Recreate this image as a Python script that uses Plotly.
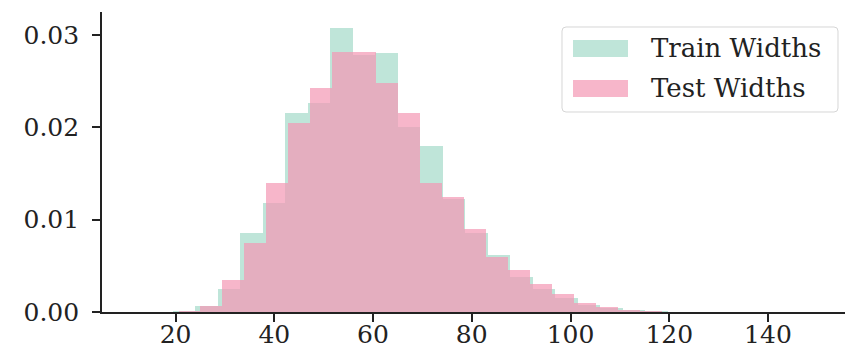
import plotly.graph_objects as go

# ---- data (densities) ----
train_bin_left = [19.38, 23.94, 28.5, 33.06, 37.62, 42.18, 46.74, 51.3, 55.86, 60.42,
                  64.98, 69.54, 74.1, 78.66, 83.22, 87.78, 92.34, 96.9, 101.46, 106.02,
                  110.58, 115.14]
train_density = [0.0001, 0.0006, 0.0025, 0.0085, 0.0118, 0.0215, 0.0226, 0.0307, 0.0278, 0.0280,
                 0.0200, 0.0180, 0.0122, 0.0085, 0.0062, 0.0038, 0.0025, 0.0015, 0.0008, 0.0004,
                 0.0002, 0.0001]
train_bin_width = 4.56

test_bin_left = [20.6, 25.05, 29.5, 33.95, 38.4, 42.85, 47.3, 51.75, 56.2, 60.65,
                 65.1, 69.55, 74.0, 78.45, 82.9, 87.35, 91.8, 96.25, 100.7, 105.15,
                 109.6, 114.05]
test_density = [0.0001, 0.0006, 0.0035, 0.0075, 0.0140, 0.0205, 0.0242, 0.0281, 0.0281, 0.0248,
                0.0215, 0.0140, 0.0125, 0.0090, 0.0060, 0.0045, 0.0030, 0.0020, 0.0010, 0.0005,
                0.0002, 0.0001]
test_bin_width = 4.45

x_ticks = [20, 40, 60, 80, 100, 120, 140]
y_ticks = [0.00, 0.01, 0.02, 0.03]
y_tick_text = ["0.00", "0.01", "0.02", "0.03"]
series_names = ["Train Widths", "Test Widths"]

TRAIN_COLOR = "rgba(102,194,165,0.42)"
TEST_COLOR = "rgba(244,151,179,0.70)"
FONT = "DejaVu Serif"
TXT = "#222222"

fig = go.Figure()
fig.add_trace(go.Bar(
    x=[l + train_bin_width / 2 for l in train_bin_left], y=train_density,
    width=train_bin_width, marker=dict(color=TRAIN_COLOR, line=dict(width=0)),
    name=series_names[0], showlegend=False, hoverinfo="skip"))
fig.add_trace(go.Bar(
    x=[l + test_bin_width / 2 for l in test_bin_left], y=test_density,
    width=test_bin_width, marker=dict(color=TEST_COLOR, line=dict(width=0)),
    name=series_names[1], showlegend=False, hoverinfo="skip"))

# plot area in pixels: x 102..845, y 12..312
L, R, T, B = 102, 845, 12, 312
W, H = 848, 358

def px(x):
    return (x - L) / (R - L)

def py(y):
    return (B - y) / (B - T)

shapes = []
x0, x1, y0, y1 = px(562), px(838), py(112), py(27)
rx, ry = 4 / (R - L), 4 / (B - T)
path = (f"M {x0+rx},{y0} L {x1-rx},{y0} Q {x1},{y0} {x1},{y0+ry} "
        f"L {x1},{y1-ry} Q {x1},{y1} {x1-rx},{y1} L {x0+rx},{y1} "
        f"Q {x0},{y1} {x0},{y1-ry} L {x0},{y0+ry} Q {x0},{y0} {x0+rx},{y0} Z")
shapes.append(dict(type="path", xref="paper", yref="paper", path=path,
                   fillcolor="rgba(255,255,255,0.85)",
                   line=dict(color="rgba(210,210,210,0.9)", width=1)))
shapes.append(dict(type="rect", xref="paper", yref="paper",
                   x0=px(573), x1=px(628), y0=py(57), y1=py(40),
                   fillcolor=TRAIN_COLOR, line=dict(width=0)))
shapes.append(dict(type="rect", xref="paper", yref="paper",
                   x0=px(573), x1=px(628), y0=py(97), y1=py(80),
                   fillcolor=TEST_COLOR, line=dict(width=0)))

annotations = [
    dict(xref="paper", yref="paper", x=px(649), y=py(48), text=series_names[0],
         showarrow=False, xanchor="left", yanchor="middle",
         font=dict(family=FONT, size=26, color=TXT)),
    dict(xref="paper", yref="paper", x=px(649), y=py(88), text=series_names[1],
         showarrow=False, xanchor="left", yanchor="middle",
         font=dict(family=FONT, size=26, color=TXT)),
]

fig.update_layout(
    width=W, height=H,
    margin=dict(l=L, r=W - R, t=T, b=H - B, pad=0, autoexpand=False),
    paper_bgcolor="white", plot_bgcolor="white",
    barmode="overlay", bargap=0, hovermode=False,
    shapes=shapes, annotations=annotations,
    font=dict(family=FONT, size=25, color=TXT),
    xaxis=dict(range=[5.1, 155.6], tickvals=x_ticks, ticks="outside", ticklen=8,
               tickwidth=1.5, tickcolor=TXT, showline=True, linecolor=TXT,
               linewidth=1.6, showgrid=False, zeroline=False, automargin=False,
               ticklabelstandoff=-9,
               tickfont=dict(family=FONT, size=25, color=TXT)),
    yaxis=dict(range=[0, 0.03247], tickvals=y_ticks, ticktext=y_tick_text,
               ticks="outside", ticklen=8, tickwidth=1.5, tickcolor=TXT,
               showline=True, linecolor=TXT, linewidth=1.6, showgrid=False,
               zeroline=False, automargin=False, ticklabelstandoff=8,
               tickfont=dict(family=FONT, size=25, color=TXT)),
)

fig.write_html("out.html", config={"displayModeBar": False},
               post_script="document.body.style.margin='0px';")
